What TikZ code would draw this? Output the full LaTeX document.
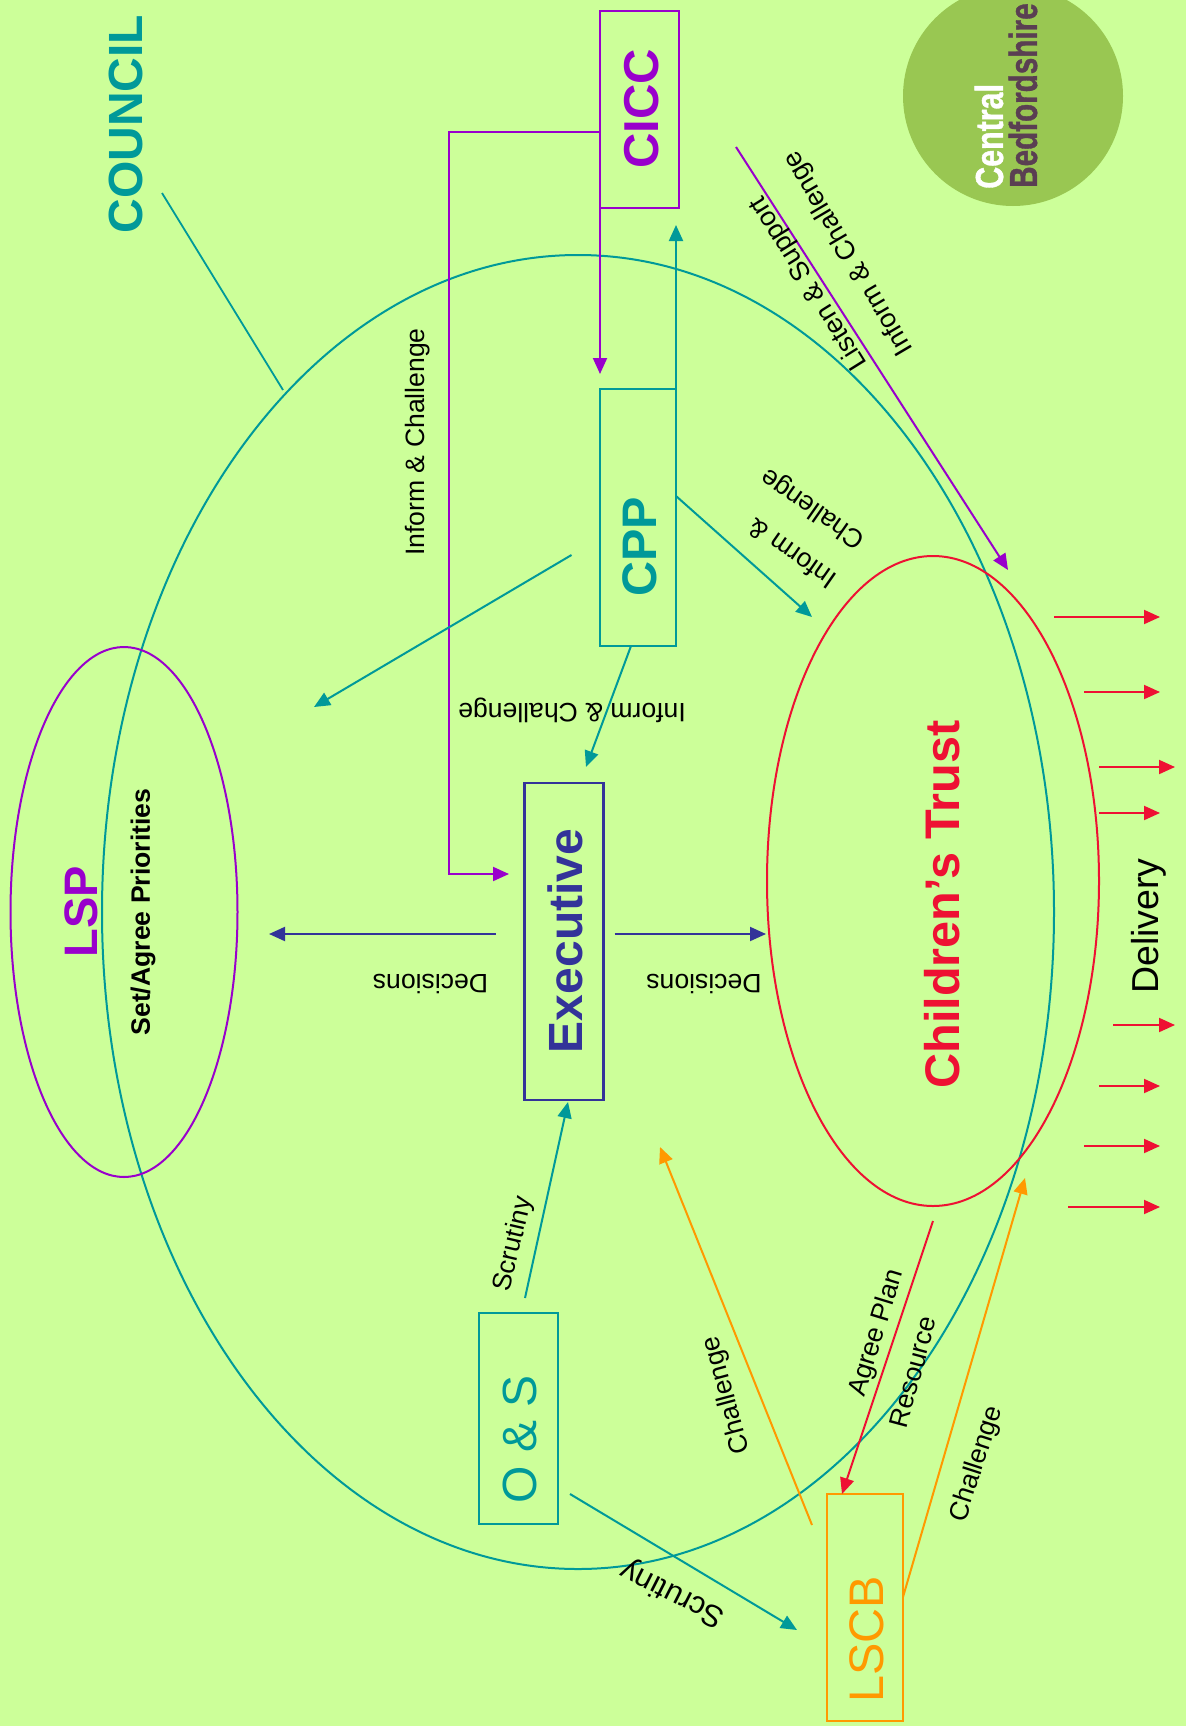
\documentclass[tikz,border=0pt]{standalone}
\usepackage{fontspec}
\setmainfont{Liberation Sans}
\newfontfamily\logofont[FakeBold=1.2]{Liberation Sans Bold}
\usetikzlibrary{shapes.geometric,arrows.meta}
\definecolor{bgc}{HTML}{CCFF99}
\definecolor{tealc}{HTML}{009999}
\definecolor{purpc}{HTML}{9900CC}
\definecolor{navyc}{HTML}{333399}
\definecolor{redc}{HTML}{EE1133}
\definecolor{orgc}{HTML}{FF9900}
\definecolor{logoc}{HTML}{99C752}
\definecolor{logot}{HTML}{5A3F52}
\newcommand{\fs}[1]{\fontsize{#1pt}{#1pt}\selectfont}
\tikzset{
  oval/.style={ellipse,draw=#1,line width=2pt,inner sep=0pt},
  boxn/.style={rectangle,draw=#1,line width=2.2pt,inner sep=0pt,rotate=90,text=#1},
  conn/.style={draw=#1,line width=2pt,-{Triangle[length=16pt,width=14pt]}},
  plainl/.style={draw=#1,line width=1.8pt},
  lab/.style={font=\fs{26.6},text=black,inner sep=0pt},
  big/.style={font=\fs{48}\bfseries,inner sep=0pt},
}
\begin{document}
\begin{tikzpicture}[x=1pt,y=-1pt]
\useasboundingbox (0,0) rectangle (1186,1726);
\fill[bgc] (0,0) rectangle (1186,1726);
% logo
\node (logo) [circle,fill=logoc,minimum size=220pt,inner sep=0pt] at (1013,96) {};
\node (lcentral) [rotate=90,anchor=west,inner sep=0pt,text=white,font=\fs{39}\logofont] at (989,189) {\scalebox{.78}[1]{Central}};
\node (lbed) [rotate=90,anchor=west,inner sep=0pt,text=logot,font=\fs{39}\logofont] at (1023,188) {\scalebox{.76}[1]{Bedfordshire}};
% ovals
\node (council) [oval=tealc,minimum width=952pt,minimum height=1314pt] at (578,912) {};
\node (lspo) [oval=purpc,minimum width=227pt,minimum height=530pt] at (124,912) {};
\node (cto) [oval=redc,minimum width=332pt,minimum height=650pt] at (933,881) {};
% boxes
\node (cicc) [boxn=purpc,minimum width=197pt,minimum height=79pt] at (639.5,109.5) {};
\node (cpp) [boxn=tealc,minimum width=257pt,minimum height=76pt] at (638,517.5) {};
\node (exec) [boxn=navyc,minimum width=317pt,minimum height=79pt] at (564,941.5) {};
\node (os) [boxn=tealc,minimum width=211pt,minimum height=79pt] at (518.5,1418.5) {};
\node (lscb) [boxn=orgc,minimum width=227pt,minimum height=76pt] at (865,1607.5) {};
% box texts
\node (tcicc) [big,rotate=90,text=purpc,font=\fs{49}\bfseries] at (641.5,109) {CICC};
\node (tcpp) [big,rotate=90,text=tealc,font=\fs{48.5}\bfseries] at (640,547) {CPP};
\node (texec) [big,rotate=90,text=navyc,font=\fs{48}\bfseries] at (565,941) {Executive};
\node (tos) [big,rotate=90,text=tealc,font=\fs{48}] at (520,1439) {O \& S};
\node (tlscb) [big,rotate=90,text=orgc,font=\fs{48.5}] at (867,1639) {LSCB};
% big labels
\node (tcouncil) [big,rotate=90,text=tealc] at (126,124) {COUNCIL};
\node (tlsp) [big,rotate=90,text=purpc,font=\fs{47}\bfseries] at (81,912) {LSP};
\node (tset) [rotate=90,inner sep=0pt,font=\fs{26.6}\bfseries] at (143,912) {Set/Agree Priorities};
\node (tct) [big,rotate=90,text=redc,font=\fs{48.6}\bfseries] at (942.5,904.5) {Children’s Trust};
\node (tdel) [rotate=90,inner sep=0pt,font=\fs{37.5}] at (1149,926) {Delivery};
% free ends
\coordinate (a1) at (600,132); \coordinate (a2) at (449,132); \coordinate (a3) at (449,874); \coordinate (a4) at (509,874);
\coordinate (b1) at (600,208); \coordinate (b2) at (600,374);
\coordinate (c1) at (676,389); \coordinate (c2) at (676,225);
\coordinate (d1) at (676,496); \coordinate (d2) at (812,617);
\coordinate (e1) at (571.5,555); \coordinate (e2) at (314,707);
\coordinate (f1) at (631,646); \coordinate (f2) at (586,767);
\coordinate (g1) at (736,147); \coordinate (g2) at (1008,570);
\coordinate (h1) at (495.5,934); \coordinate (h2) at (269,934);
\coordinate (i1) at (614.5,934); \coordinate (i2) at (766,934);
\coordinate (j1) at (525,1298); \coordinate (j2) at (568,1102);
\coordinate (k1) at (570,1494); \coordinate (k2) at (797,1630);
\coordinate (l1) at (812,1525); \coordinate (l2) at (660,1147);
\coordinate (m1) at (903,1597); \coordinate (m2) at (1025,1178);
\coordinate (n1) at (933,1221); \coordinate (n2) at (842,1494);
\coordinate (o1) at (162,193); \coordinate (o2) at (283,390);
% connectors
\draw[conn=purpc] (a1) -- (a2) -- (a3) -- (a4);
\draw[conn=purpc] (b1) -- (b2);
\draw[conn=tealc] (c1) -- (c2);
\draw[conn=tealc] (d1) -- (d2);
\draw[conn=tealc] (e1) -- (e2);
\draw[conn=tealc] (f1) -- (f2);
\draw[conn=purpc] (g1) -- (g2);
\draw[conn=navyc] (h1) -- (h2);
\draw[conn=navyc] (i1) -- (i2);
\draw[conn=tealc] (j1) -- (j2);
\draw[conn=tealc] (k1) -- (k2);
\draw[conn=orgc] (l1) -- (l2);
\draw[conn=orgc] (m1) -- (m2);
\draw[conn=redc] (n1) -- (n2);
\draw[plainl=tealc] (o1) -- (o2);
% delivery arrows
\foreach \n/\xa/\xb/\yy in {1/1054/1160/617,2/1084/1160/692,3/1099/1175/767,4/1099/1160/813,5/1113/1175/1025,6/1099/1160/1086,7/1084/1160/1146,8/1068/1160/1207}{
  \coordinate (ds\n) at (\xa,\yy);
  \coordinate (de\n) at (\xb,\yy);
  \draw[conn=redc] (ds\n) -- (de\n);
}
% labels
\node (l1t) [lab,rotate=90] at (418,442) {Inform \& Challenge};
\node (l2t) [lab,rotate=180] at (572,710) {Inform \& Challenge};
\node (l3t) [lab,rotate=180] at (430.5,984) {Decisions};
\node (l4t) [lab,rotate=180] at (704,984) {Decisions};
\node (l5t) [lab,rotate=77] at (514,1244) {Scrutiny};
\node (l6t) [lab,rotate=153,font=\fs{31}] at (673,1593) {Scrutiny};
\node (l7t) [lab,rotate=120.5,font=\fs{27}] at (849,253) {Inform \& Challenge};
\node (l8t) [lab,rotate=122,font=\fs{27}] at (809,283) {Listen \& Support};
\node (l9t) [lab,rotate=145] at (792,554) {Inform \&};
\node (l10t) [lab,rotate=145] at (813,508) {Challenge};
\node (l11t) [lab,rotate=73] at (877,1333) {Agree Plan};
\node (l12t) [lab,rotate=75] at (913,1372) {Resource};
\node (l13t) [lab,rotate=105] at (727,1395) {Challenge};
\node (l14t) [lab,rotate=72] at (977,1464) {Challenge};
\end{tikzpicture}
\end{document}
